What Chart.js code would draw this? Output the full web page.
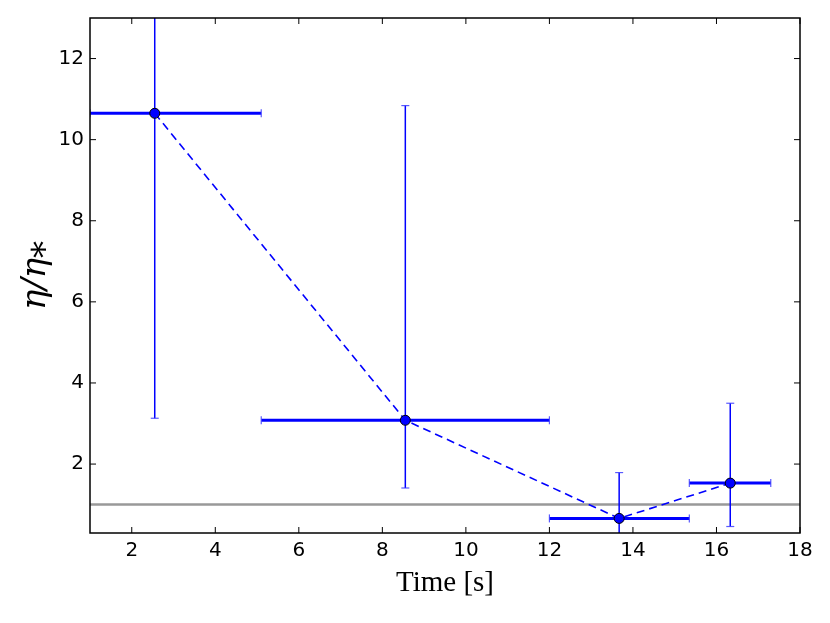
<!DOCTYPE html>
<html><head><meta charset="utf-8">
<script src="https://cdn.jsdelivr.net/npm/chart.js@4/dist/chart.umd.min.js"></script>
<style>html,body{margin:0;padding:0;background:#fff}#wrap{width:830px;height:623px}</style>
</head><body><div id="wrap"><canvas id="c" width="830" height="623"></canvas></div>
<script>
// Data
const timeValues = [2.55, 8.55, 13.67, 16.33];
const etaValues = [10.65, 3.08, 0.66, 1.53];
const timeLow = [1.0, 5.1, 12.0, 15.35];
const timeHigh = [5.1, 12.0, 15.35, 17.3];
const etaLow = [3.13, 1.41, 0.0, 0.46];
const etaHigh = [14.0, 10.84, 1.79, 3.5];
const referenceLevel = [1, 1];
const referenceX = [1, 18];
const xTicks = [2, 4, 6, 8, 10, 12, 14, 16, 18];
const yTicks = [2, 4, 6, 8, 10, 12];

const blue = '#0000ff';

const errorBarPlugin = {
  id: 'errbars',
  afterDatasetsDraw(chart) {
    const ctx = chart.ctx, xs = chart.scales.x, ys = chart.scales.y, a = chart.chartArea;
    ctx.save();
    ctx.beginPath(); ctx.rect(a.left, a.top, a.right - a.left, a.bottom - a.top); ctx.clip();
    for (let i = 0; i < timeValues.length; i++) {
      const px = xs.getPixelForValue(timeValues[i]), py = ys.getPixelForValue(etaValues[i]);
      const y1 = ys.getPixelForValue(etaLow[i]), y2 = ys.getPixelForValue(etaHigh[i]);
      ctx.strokeStyle = blue; ctx.lineWidth = 1.5;
      ctx.beginPath(); ctx.moveTo(px, y1); ctx.lineTo(px, y2); ctx.stroke();
      ctx.strokeStyle = 'rgba(60,60,255,0.85)'; ctx.lineWidth = 1.2;
      [y1, y2].forEach(yy => { ctx.beginPath(); ctx.moveTo(px - 4, yy); ctx.lineTo(px + 4, yy); ctx.stroke(); });
      const x1 = xs.getPixelForValue(timeLow[i]), x2 = xs.getPixelForValue(timeHigh[i]);
      ctx.strokeStyle = blue; ctx.lineWidth = 3;
      ctx.beginPath(); ctx.moveTo(x1, py); ctx.lineTo(x2, py); ctx.stroke();
      ctx.strokeStyle = 'rgba(60,60,255,0.85)'; ctx.lineWidth = 1.2;
      [x1, x2].forEach(xx => { ctx.beginPath(); ctx.moveTo(xx, py - 4); ctx.lineTo(xx, py + 4); ctx.stroke(); });
    }
    ctx.restore();
    ctx.save();
    for (let i = 0; i < timeValues.length; i++) {
      const px = xs.getPixelForValue(timeValues[i]), py = ys.getPixelForValue(etaValues[i]);
      ctx.beginPath(); ctx.arc(px, py, 5, 0, Math.PI * 2);
      ctx.fillStyle = blue; ctx.fill(); ctx.lineWidth = 1; ctx.strokeStyle = '#000'; ctx.stroke();
    }
    ctx.strokeStyle = '#000'; ctx.lineWidth = 1.5;
    ctx.strokeRect(a.left, a.top, a.right - a.left, a.bottom - a.top);
    ctx.lineWidth = 1;
    xTicks.forEach(t => {
      const x = xs.getPixelForValue(t);
      ctx.beginPath(); ctx.moveTo(x, a.bottom); ctx.lineTo(x, a.bottom - 6);
      ctx.moveTo(x, a.top); ctx.lineTo(x, a.top + 6); ctx.stroke();
    });
    yTicks.forEach(t => {
      const y = ys.getPixelForValue(t);
      ctx.beginPath(); ctx.moveTo(a.left, y); ctx.lineTo(a.left + 6, y);
      ctx.moveTo(a.right, y); ctx.lineTo(a.right - 6, y); ctx.stroke();
    });
    ctx.restore();
  }
};

new Chart(document.getElementById('c'), {
  type: 'scatter',
  data: {
    datasets: [
      {
        data: referenceX.map((x, i) => ({ x, y: referenceLevel[i] })),
        showLine: true, borderColor: '#999999', borderWidth: 2.5, pointRadius: 0, order: 2
      },
      {
        data: timeValues.map((x, i) => ({ x, y: etaValues[i] })),
        showLine: true, borderColor: blue, borderWidth: 1.6, borderDash: [8, 5],
        pointRadius: 0, order: 1
      }
    ]
  },
  options: {
    responsive: false, animation: false, devicePixelRatio: 1,
    layout: { padding: { top: 18, right: 30, left: 0, bottom: 0 } },
    plugins: { legend: { display: false }, tooltip: { enabled: false } },
    scales: {
      x: {
        type: 'linear', min: 1, max: 18,
        afterBuildTicks: s => { s.ticks = xTicks.map(v => ({ value: v })); },
        afterFit: s => { s.height = 90; },
        grid: { display: false, drawTicks: false },
        border: { display: false },
        ticks: { color: '#000', font: { family: 'DejaVu Sans', size: 20 }, padding: 6 },
        title: { display: true, text: 'Time [s]', color: '#000', font: { family: 'Liberation Serif', size: 29 }, padding: { top: 2, bottom: 22 } }
      },
      y: {
        type: 'linear', min: 0.3, max: 13,
        afterBuildTicks: s => { s.ticks = yTicks.map(v => ({ value: v })); },
        afterFit: s => { s.width = 90; },
        grid: { display: false, drawTicks: false },
        border: { display: false },
        ticks: { color: '#000', font: { family: 'DejaVu Sans', size: 20 }, padding: 6 },
        title: { display: true, text: 'η/η⁎', color: '#000', font: { family: 'DejaVu Serif', size: 34, style: 'italic' }, padding: { top: 16, bottom: 0 } }
      }
    }
  },
  plugins: [errorBarPlugin]
});
</script>
</body></html>
